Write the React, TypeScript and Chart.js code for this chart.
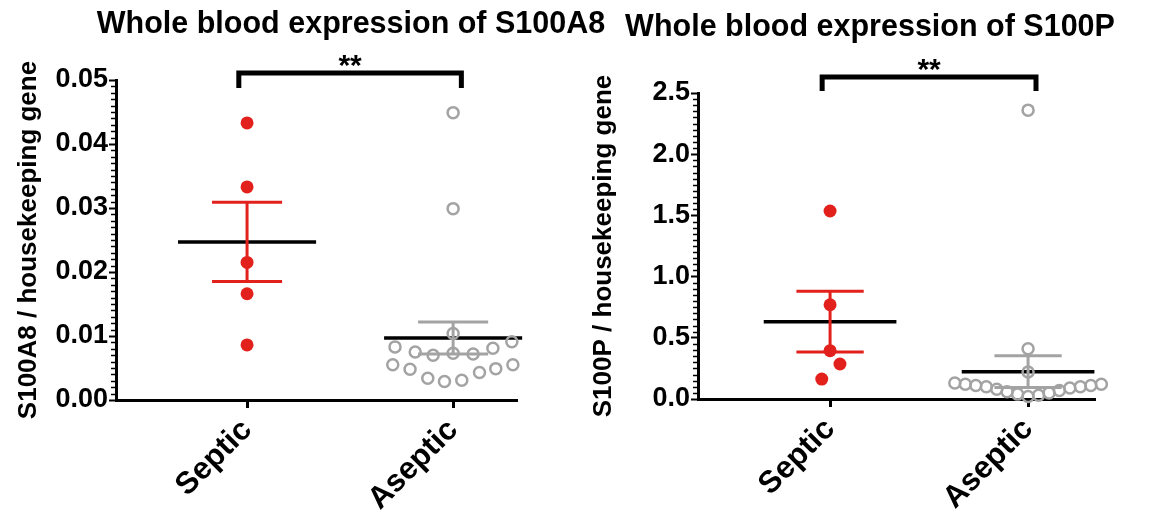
import React, { useEffect, useRef } from "react";
import { Chart, registerables } from "chart.js";

Chart.register(...registerables);

// ---------- data ----------
const categories = ["Septic", "Aseptic"];

// Panel A: S100A8
const s100a8Title = "Whole blood expression of S100A8";
const s100a8YLabel = "S100A8 / housekeeping gene";
const s100a8Septic = [0.0433, 0.0333, 0.0215, 0.0166, 0.0086];
const s100a8SepticJitter = [0, 0, 0, 0, 0];
const s100a8Aseptic = [
  0.0449, 0.0299, 0.0104, 0.0091, 0.0083, 0.0075, 0.007, 0.0073, 0.0072,
  0.0081, 0.0055, 0.0048, 0.0034, 0.0029, 0.0031, 0.0043, 0.0049, 0.0055,
];
const s100a8AsepticJitter = [
  0, 0, 0, 0.285, -0.282, -0.184, -0.097, 0, 0.097, 0.193, -0.293, -0.209,
  -0.123, -0.042, 0.042, 0.128, 0.207, 0.29,
];
const s100a8Mean = [0.0247, 0.0097];
const s100a8Sem = [0.0062, 0.0025];
const s100a8Ticks = [0, 0.01, 0.02, 0.03, 0.04, 0.05];
const s100a8Decimals = 2;
const s100a8MinorPerMajor = 10;
const s100a8Signif = "**";

// Panel B: S100P
const s100pTitle = "Whole blood expression of S100P";
const s100pYLabel = "S100P / housekeeping gene";
const s100pSeptic = [1.536, 0.77, 0.395, 0.286, 0.163];
const s100pSepticJitter = [0, 0, 0, 0.05, -0.042];
const s100pAseptic = [
  2.36, 0.41, 0.22, 0.13, 0.12, 0.11, 0.1, 0.08, 0.06, 0.04, 0.02, 0.03,
  0.05, 0.07, 0.09, 0.1, 0.11, 0.12,
];
const s100pAsepticJitter = [
  0, 0, 0, -0.37, -0.317, -0.264, -0.211, -0.158, -0.106, -0.053, 0, 0.053,
  0.106, 0.158, 0.211, 0.264, 0.317, 0.37,
];
const s100pMean = [0.632, 0.223];
const s100pSem = [0.248, 0.13];
const s100pTicks = [0, 0.5, 1.0, 1.5, 2.0, 2.5];
const s100pDecimals = 1;
const s100pMinorPerMajor = 10;
const s100pSignif = "**";

// ---------- styles ----------
const RED = "#e3211c";
const GREY = "#a3a3a3";
const BLACK = "#000000";
const FONT = "'Liberation Sans', Arial, sans-serif";

type Panel = {
  title: string;
  yLabel: string;
  septic: number[];
  septicJitter: number[];
  aseptic: number[];
  asepticJitter: number[];
  mean: number[];
  sem: number[];
  ticks: number[];
  decimals: number;
  minorPerMajor: number;
  signif: string;
  // layout
  width: number;
  padTop: number;
  padRight: number;
  yAxisWidth: number;
  xAxisHeight: number;
  xMin: number;
  xMax: number;
  titleX: number;
  titleBaseline: number;
  bracketY: number;
  bracketLeg: number;
  signifBaseline: number;
  yTitlePad: number;
  asepticRadius: number;
};

const MEAN_HALF = 0.335;
const CAP_HALF = 0.17;

function segment(points: { x: number; y: number }[], color: string, width: number, order: number) {
  return {
    type: "scatter" as const,
    data: points,
    showLine: true,
    borderColor: color,
    borderWidth: width,
    pointRadius: 0,
    pointHoverRadius: 0,
    fill: false,
    clip: false as any,
    order,
  };
}

function buildConfig(p: Panel): any {
  const groupColors = [RED, GREY];
  const datasets: any[] = [];
  // points
  datasets.push({
    type: "scatter",
    data: p.septic.map((v, i) => ({ x: 0 + p.septicJitter[i], y: v })),
    pointRadius: 6.5,
    pointHoverRadius: 6.5,
    backgroundColor: RED,
    borderColor: RED,
    borderWidth: 0,
    clip: false,
    order: 0,
  });
  datasets.push({
    type: "scatter",
    data: p.aseptic.map((v, i) => ({ x: 1 + p.asepticJitter[i], y: v })),
    pointRadius: p.asepticRadius,
    pointHoverRadius: p.asepticRadius,
    backgroundColor: "rgba(255,255,255,0)",
    borderColor: GREY,
    borderWidth: 2.5,
    clip: false,
    order: 0,
  });
  // mean & SEM
  p.mean.forEach((m, g) => {
    const s = p.sem[g];
    const c = groupColors[g];
    datasets.push(segment([{ x: g, y: m - s }, { x: g, y: m + s }], c, 3, 1));
    datasets.push(segment([{ x: g - CAP_HALF, y: m + s }, { x: g + CAP_HALF, y: m + s }], c, 3, 1));
    datasets.push(segment([{ x: g - CAP_HALF, y: m - s }, { x: g + CAP_HALF, y: m - s }], c, 3, 1));
    datasets.push(segment([{ x: g - MEAN_HALF, y: m }, { x: g + MEAN_HALF, y: m }], BLACK, 3.5, 2));
  });

  const overlay = {
    id: "overlay",
    afterDraw(chart: any) {
      const ctx = chart.ctx;
      const xs = chart.scales.x;
      const ys = chart.scales.y;
      const area = chart.chartArea;
      ctx.save();
      // minor ticks
      ctx.strokeStyle = BLACK;
      ctx.lineWidth = 1.5;
      const t = p.ticks;
      for (let k = 0; k < t.length - 1; k++) {
        for (let j = 1; j < p.minorPerMajor; j++) {
          const v = t[k] + ((t[k + 1] - t[k]) * j) / p.minorPerMajor;
          const py = Math.round(ys.getPixelForValue(v)) + 0.5;
          ctx.beginPath();
          ctx.moveTo(area.left - 1, py);
          ctx.lineTo(area.left - 5, py);
          ctx.stroke();
        }
      }
      // title
      ctx.fillStyle = BLACK;
      ctx.font = `bold 30.5px ${FONT}`;
      ctx.textAlign = "center";
      ctx.textBaseline = "alphabetic";
      ctx.fillText(p.title, p.titleX, p.titleBaseline);
      // bracket
      const x0 = xs.getPixelForValue(-0.04);
      const x1 = xs.getPixelForValue(1.04);
      ctx.lineWidth = 5;
      ctx.lineJoin = "miter";
      ctx.lineCap = "butt";
      ctx.beginPath();
      ctx.moveTo(x0, p.bracketY + p.bracketLeg);
      ctx.lineTo(x0, p.bracketY);
      ctx.lineTo(x1, p.bracketY);
      ctx.lineTo(x1, p.bracketY + p.bracketLeg);
      ctx.stroke();
      ctx.font = `bold 30px ${FONT}`;
      ctx.fillText(p.signif, (x0 + x1) / 2, p.signifBaseline);
      ctx.restore();
    },
  };

  return {
    type: "scatter",
    data: { datasets },
    plugins: [overlay],
    options: {
      animation: false,
      responsive: false,
      devicePixelRatio: 1,
      events: [],
      layout: { padding: { top: p.padTop, right: p.padRight, left: 0, bottom: 0 } },
      plugins: {
        legend: { display: false },
        tooltip: { enabled: false },
        title: { display: false },
      },
      scales: {
        x: {
          type: "linear",
          min: p.xMin,
          max: p.xMax,
          afterBuildTicks: (s: any) => {
            s.ticks = categories.map((_, i) => ({ value: i }));
          },
          afterFit: (s: any) => {
            s.height = p.xAxisHeight;
          },
          ticks: {
            autoSkip: false,
            minRotation: 45,
            maxRotation: 45,
            padding: 4,
            color: BLACK,
            font: { family: FONT, size: 31, weight: "bold" },
            callback: (v: number) => categories[Math.round(v)],
          },
          grid: {
            drawOnChartArea: false,
            drawTicks: true,
            tickLength: 8,
            tickWidth: 3,
            tickColor: BLACK,
          },
          border: { color: BLACK, width: 3 },
        },
        y: {
          type: "linear",
          min: p.ticks[0],
          max: p.ticks[p.ticks.length - 1],
          afterBuildTicks: (s: any) => {
            s.ticks = p.ticks.map((v) => ({ value: v }));
          },
          afterFit: (s: any) => {
            s.width = p.yAxisWidth;
          },
          ticks: {
            padding: 1,
            color: BLACK,
            font: { family: FONT, size: 27, weight: "bold" },
            callback: (v: number) => Number(v).toFixed(p.decimals),
          },
          grid: {
            drawOnChartArea: false,
            drawTicks: true,
            tickLength: 7,
            tickWidth: 2,
            tickColor: BLACK,
          },
          border: { color: BLACK, width: 3 },
          title: {
            display: true,
            text: p.yLabel,
            color: BLACK,
            font: { family: FONT, size: 26, weight: "bold" },
            padding: { top: p.yTitlePad, bottom: 0 },
          },
        },
      },
    },
  };
}

const panelA: Panel = {
  title: s100a8Title,
  yLabel: s100a8YLabel,
  septic: s100a8Septic,
  septicJitter: s100a8SepticJitter,
  aseptic: s100a8Aseptic,
  asepticJitter: s100a8AsepticJitter,
  mean: s100a8Mean,
  sem: s100a8Sem,
  ticks: s100a8Ticks,
  decimals: s100a8Decimals,
  minorPerMajor: s100a8MinorPerMajor,
  signif: s100a8Signif,
  width: 640,
  padTop: 80,
  padRight: 123,
  yAxisWidth: 116,
  xAxisHeight: 110,
  xMin: -0.636,
  xMax: 1.31,
  titleX: 351,
  titleBaseline: 33,
  bracketY: 73,
  bracketLeg: 15,
  signifBaseline: 75,
  yTitlePad: 13,
  asepticRadius: 5.5,
};

const panelB: Panel = {
  title: s100pTitle,
  yLabel: s100pYLabel,
  septic: s100pSeptic,
  septicJitter: s100pSepticJitter,
  aseptic: s100pAseptic,
  asepticJitter: s100pAsepticJitter,
  mean: s100pMean,
  sem: s100pSem,
  ticks: s100pTicks,
  decimals: s100pDecimals,
  minorPerMajor: s100pMinorPerMajor,
  signif: s100pSignif,
  width: 586,
  padTop: 93,
  padRight: 76,
  yAxisWidth: 113,
  xAxisHeight: 111,
  xMin: -0.667,
  xMax: 1.338,
  titleX: 285,
  titleBaseline: 36,
  bracketY: 77,
  bracketLeg: 14,
  signifBaseline: 79,
  yTitlePad: 3,
  asepticRadius: 5.5,
};

function PanelChart({ panel, left }: { panel: Panel; left: number }) {
  const ref = useRef<HTMLCanvasElement | null>(null);
  useEffect(() => {
    if (!ref.current) return;
    const chart = new Chart(ref.current, buildConfig(panel));
    return () => chart.destroy();
  }, [panel]);
  return (
    <canvas
      ref={ref}
      width={panel.width}
      height={510}
      style={{ position: "absolute", left, top: 0, width: panel.width, height: 510 }}
    />
  );
}

export default function App() {
  return (
    <div
      style={{
        position: "fixed",
        left: 0,
        top: 0,
        width: 1171,
        height: 510,
        background: "#ffffff",
        overflow: "hidden",
      }}
    >
      <PanelChart panel={panelA} left={0} />
      <PanelChart panel={panelB} left={585} />
    </div>
  );
}
